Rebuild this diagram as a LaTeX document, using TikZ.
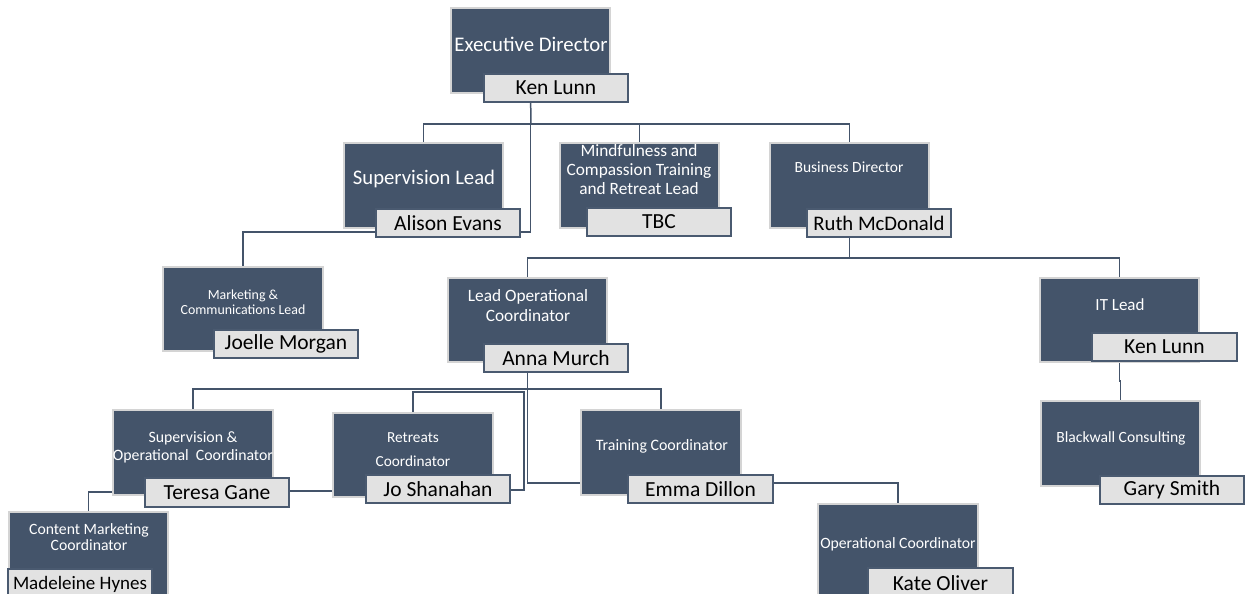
\documentclass[tikz,border=0pt]{standalone}
\usepackage{fontspec}
\setmainfont{Carlito}
\usetikzlibrary{backgrounds}
\definecolor{dk}{HTML}{44546A}
\definecolor{dkb}{HTML}{D4D4D4}
\definecolor{nf}{HTML}{E2E2E2}
\definecolor{nb}{HTML}{4A5A70}
\tikzset{
  role/.style={draw=dkb, line width=1.2pt, fill=dk, anchor=north west, inner sep=0pt, outer sep=0pt},
  who/.style={draw=nb, line width=1.3pt, fill=nf, anchor=north west, text=black, inner sep=0pt, outer sep=0pt, font=\fontsize{21.5}{24}\selectfont},
  ttl/.style={text=white, align=center, inner sep=0pt},
  conn/.style={draw=dk, line width=1.5pt}
}
\begin{document}
\begin{tikzpicture}[x=1pt,y=-1pt]
\useasboundingbox (0,0) rectangle (1245,594);
\clip (0,0) rectangle (1245,594);

% dark role boxes
\node[role, minimum width=159, minimum height=85] (ed) at (451,8) {};
\node[role, minimum width=159, minimum height=85] (sl) at (344,143) {};
\node[role, minimum width=159, minimum height=85] (mf) at (560,143) {};
\node[role, minimum width=159, minimum height=85] (bd) at (770,143) {};
\node[role, minimum width=160, minimum height=84] (mk) at (163,267) {};
\node[role, minimum width=159, minimum height=84] (lo) at (448,278) {};
\node[role, minimum width=159, minimum height=84] (it) at (1040,278) {};
\node[role, minimum width=159, minimum height=85] (bw) at (1041,401) {};
\node[role, minimum width=160, minimum height=85] (so) at (113,410) {};
\node[role, minimum width=160, minimum height=84] (rc) at (333,413) {};
\node[role, minimum width=160, minimum height=85] (tc) at (581,410) {};
\node[role, minimum width=159, minimum height=100] (cm) at (9,512) {};
\node[role, minimum width=160, minimum height=100] (oc) at (818,504) {};

% titles
\node[ttl, font=\fontsize{20.8}{24}\selectfont] (edt) at (531,44) {Executive Director};
\node[ttl, font=\fontsize{20.7}{24}\selectfont] (slt) at (424,179) {Supervision Lead};
\node[ttl, font=\fontsize{17.3}{19}\selectfont] (mft) at (639,170) {Mindfulness and\\Compassion Training\\and Retreat Lead};
\node[ttl, font=\fontsize{15.5}{17}\selectfont] (bdt) at (849,167) {Business Director};
\node[ttl, font=\fontsize{13.9}{15}\selectfont] (mkt) at (243,302) {Marketing \&\\Communications Lead};
\node[ttl, font=\fontsize{17.3}{20}\selectfont] (lot) at (528,306) {Lead Operational\\Coordinator};
\node[ttl, font=\fontsize{17}{18}\selectfont] (itt) at (1120,305) {IT Lead};
\node[ttl, font=\fontsize{15.6}{18}\selectfont] (bwt) at (1121,438) {Blackwall Consulting};
\node[ttl, font=\fontsize{15.8}{18}\selectfont] (sot) at (193,447) {Supervision \&\\Operational\ \ Coordinator};
\node[ttl, font=\fontsize{15.3}{24}\selectfont] (rct) at (413,450) {Retreats\\Coordinator};
\node[ttl, font=\fontsize{15.9}{18}\selectfont] (tct) at (662,446) {Training Coordinator};
\node[ttl, font=\fontsize{15.7}{16}\selectfont] (cmt) at (89,537) {Content Marketing\\Coordinator};
\node[ttl, font=\fontsize{15.7}{18}\selectfont] (oct) at (898,544) {Operational Coordinator};

% name boxes
\node[who, minimum width=144, minimum height=28] (edn) at (484,74) {Ken Lunn};
\node[who, minimum width=144, minimum height=28] (sln) at (376,209) {Alison Evans};
\node[who, minimum width=144, minimum height=28] (mfn) at (587,208) {TBC};
\node[who, minimum width=144, minimum height=28, font=\fontsize{20.7}{24}\selectfont] (bdn) at (807,209) {Ruth McDonald};
\node[who, minimum width=144, minimum height=28] (mkn) at (214,330) {Joelle Morgan};
\node[who, minimum width=144, minimum height=28] (lon) at (484,344) {Anna Murch};
\node[who, minimum width=145, minimum height=28] (itn) at (1092,333) {Ken Lunn};
\node[who, minimum width=144, minimum height=28] (bwn) at (1100,476) {Gary Smith};
\node[who, minimum width=144, minimum height=29] (son) at (145,478) {Teresa Gane};
\node[who, minimum width=144, minimum height=28] (rcn) at (366,475) {Jo Shanahan};
\node[who, minimum width=145, minimum height=28] (tcn) at (628,475) {Emma Dillon};
\node[who, minimum width=144, minimum height=30, font=\fontsize{19}{22}\selectfont] (cmn) at (8,569) {Madeleine Hynes};
\node[who, minimum width=145, minimum height=30] (ocn) at (868,568) {Kate Oliver};

% helper coordinates (levels)
\coordinate (bus1) at (531,124);
\coordinate (mk1) at (0,232);
\coordinate (bus2) at (0,258);
\coordinate (bus3) at (0,389);
\coordinate (r1) at (524,392);
\coordinate (rj) at (0,490);
\coordinate (tj) at (0,483);
\coordinate (sr) at (0,491);
\coordinate (cj) at (0,492);

\begin{scope}[on background layer]
\fill[white] (0,0) rectangle (1245,594);
\draw[conn] (ed.south) -- (bus1);
\draw[conn] (sl.north) -- (sl.north |- bus1) -- (bd.north |- bus1) -- (bd.north);
\draw[conn] (mf.north) -- (mf.north |- bus1);
\draw[conn] (ed.south) -- (ed.south |- mk1) -| (mk.north);
\draw[conn] (bd.south) -- (bd.south |- bus2);
\draw[conn] (lo.north) -- (lo.north |- bus2) -- (it.north |- bus2) -- (it.north);
\draw[conn] (it.south) -- ++(0,19) -| (bw.north);
\draw[conn] (so.north) -- (so.north |- bus3) -- (tc.north |- bus3) -- (tc.north);
\draw[conn] (lo.south) -- (lo.south |- tj) -- (tc.west |- tj);
\draw[conn] (rc.north) -- (rc.north |- r1) -- (r1) -- (r1 |- rj) -- (rcn.east |- rj);
\draw[conn] (son.east |- sr) -- (rc.west |- sr);
\draw[conn] (so.west |- cj) -| (cm.north);
\draw[conn] (tcn.east |- tj) -| (oc.north);
\end{scope}
\end{tikzpicture}
\end{document}
